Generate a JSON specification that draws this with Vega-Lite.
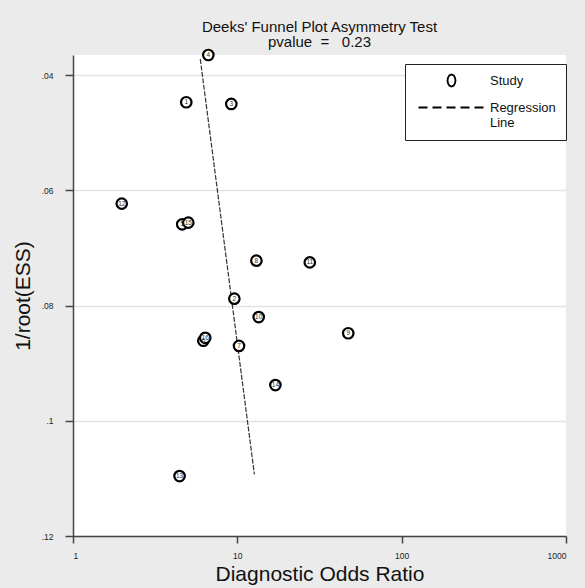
{
  "$schema": "https://vega.github.io/schema/vega-lite/v6.json",
  "width": 493,
  "height": 481,
  "autosize": {"type": "none"},
  "padding": {"left": 73, "top": 55, "right": 19, "bottom": 52},
  "background": "#ebebeb",
  "config": {"view": {"fill": "white", "stroke": null}, "font": "Liberation Sans"},
  "title": {
    "text": ["Deeks' Funnel Plot Asymmetry Test", "pvalue\u00a0\u00a0=\u00a0\u00a0\u00a00.23"],
    "fontSize": 15,
    "fontWeight": "normal",
    "font": "Liberation Sans",
    "color": "#111",
    "offset": -5,
    "lineHeight": 15,
    "anchor": "middle"
  },
  "datasets": {
    "studies": [
      {"study": "1", "dor": 4.89, "inv_root_ess": 0.0447},
      {"study": "2", "dor": 9.59, "inv_root_ess": 0.0788},
      {"study": "3", "dor": 9.19, "inv_root_ess": 0.0450},
      {"study": "4", "dor": 6.66, "inv_root_ess": 0.0365},
      {"study": "5", "dor": 4.62, "inv_root_ess": 0.0659},
      {"study": "6", "dor": 6.21, "inv_root_ess": 0.0861},
      {"study": "7", "dor": 10.24, "inv_root_ess": 0.0870},
      {"study": "8", "dor": 13.06, "inv_root_ess": 0.0722},
      {"study": "9", "dor": 47.3, "inv_root_ess": 0.0848},
      {"study": "10", "dor": 13.49, "inv_root_ess": 0.0820},
      {"study": "11", "dor": 27.6, "inv_root_ess": 0.0725},
      {"study": "12", "dor": 1.98, "inv_root_ess": 0.0623},
      {"study": "13", "dor": 4.45, "inv_root_ess": 0.1096},
      {"study": "14", "dor": 17.05, "inv_root_ess": 0.0938},
      {"study": "15", "dor": 5.03, "inv_root_ess": 0.0656},
      {"study": "16", "dor": 6.38, "inv_root_ess": 0.0856}
    ],
    "regression": [
      {"dor": 5.95, "inv_root_ess": 0.0372},
      {"dor": 12.7, "inv_root_ess": 0.1093}
    ]
  },
  "encoding": {
    "x": {
      "field": "dor",
      "type": "quantitative",
      "scale": {"type": "log", "domain": [1, 1000]},
      "axis": {
        "title": "Diagnostic Odds Ratio",
        "values": [1, 10, 100, 1000],
        "labelExpr": "format(datum.value, 'd')",
        "grid": false,
        "tickSize": 7,
        "tickWidth": 1.5,
        "tickColor": "#444",
        "domainColor": "#444",
        "domainWidth": 1.5,
        "labelFontSize": 8.5,
        "labelColor": "#222",
        "labelPadding": 8,
        "titleFontSize": 21,
        "titleFontWeight": "normal",
        "titleColor": "#111",
        "titlePadding": 4
      }
    },
    "y": {
      "field": "inv_root_ess",
      "type": "quantitative",
      "scale": {"domain": [0.0365, 0.12], "reverse": true, "zero": false, "nice": false},
      "axis": {
        "title": "1/root(ESS)",
        "values": [0.04, 0.06, 0.08, 0.1, 0.12],
        "labelExpr": "substring(format(datum.value, '~g'), 1)",
        "grid": true,
        "gridColor": "#e2e2e2",
        "gridWidth": 1.5,
        "tickSize": 8,
        "tickWidth": 1.5,
        "tickColor": "#444",
        "domainColor": "#444",
        "domainWidth": 1.5,
        "labelFontSize": 8.5,
        "labelColor": "#222",
        "labelPadding": 12,
        "titleFontSize": 21,
        "titleFontWeight": "normal",
        "titleColor": "#111",
        "titlePadding": 8
      }
    }
  },
  "layer": [
    {
      "data": {"name": "regression"},
      "mark": {"type": "line", "strokeDash": [5, 1.5], "strokeWidth": 1.2, "color": "#333", "clip": false},
      "encoding": {}
    },
    {
      "data": {"name": "studies"},
      "mark": {"type": "point", "opacity": 0},
      "encoding": {
        "shape": {
          "datum": "Study",
          "type": "nominal",
          "scale": {
            "domain": ["Study", "Regression Line"],
            "range": [
              "M6.8,0L6.693,0.6L6.4,1.039L6,1.2L5.6,1.039L5.307,0.6L5.2,0L5.307,-0.6L5.6,-1.039L6,-1.2L6.4,-1.039L6.693,-0.6Z",
              "M-0.6,0H1.2M2.2,0H4M5,0H6.8M7.8,0H9.6M10.6,0H12.4"
            ]
          },
          "legend": {
            "title": null,
            "orient": "none",
            "legendX": 332,
            "legendY": 9,
            "strokeColor": "#222",
            "fillColor": "white",
            "padding": 10,
            "symbolSize": 100,
            "symbolStrokeWidth": 1.8,
            "symbolStrokeColor": "black",
            "symbolFillColor": "white",
            "symbolOpacity": 1,
            "labelOffset": 62,
            "labelFontSize": 13,
            "labelFont": "Liberation Sans",
            "labelColor": "#111",
            "rowPadding": 10,
            "labelExpr": "datum.label == 'Regression Line' ? ['Regression', 'Line'] : datum.label"
          }
        }
      }
    },
    {
      "data": {"name": "studies"},
      "mark": {"type": "point", "shape": "circle", "size": 110, "stroke": "black", "strokeWidth": 2.2, "fill": "white", "fillOpacity": 1, "opacity": 1, "clip": false}
    },
    {
      "data": {"name": "studies"},
      "mark": {"type": "text", "fontSize": 6.5, "color": "#333", "align": "center", "baseline": "middle"},
      "encoding": {"text": {"field": "study", "type": "nominal"}}
    }
  ]
}
